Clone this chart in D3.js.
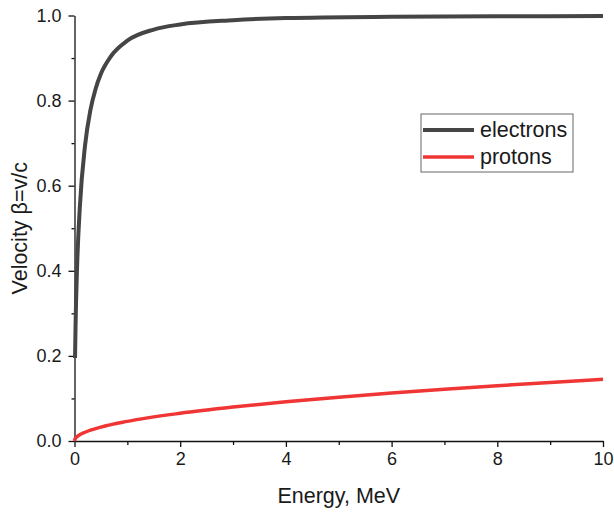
<!DOCTYPE html>
<html>
<head>
<meta charset="utf-8">
<script src="https://cdn.jsdelivr.net/npm/d3@7"></script>
<style>
  body { margin: 0; background: #fff; }
  text { font-family: "Liberation Sans", Arial, sans-serif; fill: #1a1a1a; }
</style>
</head>
<body>
<div id="chart"></div>
<script>
// energy in MeV, velocity as beta = v/c
let electronEnergy = [0.01, 0.02, 0.05, 0.1, 0.2, 0.3, 0.4, 0.5, 0.7, 1, 1.5, 2, 3, 4, 6, 8, 10];
let electronBeta   = [0.195, 0.272, 0.413, 0.548, 0.695, 0.777, 0.828, 0.863, 0.906, 0.941, 0.967, 0.979, 0.989, 0.994, 0.997, 0.998, 0.999];
let protonEnergy = [0, 0.01, 0.05, 0.1, 0.2, 0.5, 1, 2, 3, 4, 5, 6, 7, 8, 9, 10];
let protonBeta   = [0, 0.0046, 0.0103, 0.0146, 0.0206, 0.0326, 0.0461, 0.0652, 0.0798, 0.0921, 0.1028, 0.1126, 0.1215, 0.1298, 0.1376, 0.1449];
let xTicks = [0, 2, 4, 6, 8, 10];
let yTicks = [0, 0.2, 0.4, 0.6, 0.8, 1.0];
let seriesNames = ["electrons", "protons"];
let seriesColors = ["#454545", "#f03535"];

let width = 614, height = 512;
let margin = {left: 74.5, right: 11, top: 15.5, bottom: 71};

let svg = d3.select("#chart").append("svg")
    .attr("width", width)
    .attr("height", height);

let x = d3.scaleLinear().domain([0, 10]).range([margin.left, width - margin.right]);
let y = d3.scaleLinear().domain([0, 1]).range([height - margin.bottom, margin.top]);

// minor ticks
svg.append("g")
    .attr("transform", `translate(0, ${y(0)})`)
    .call(d3.axisBottom(x).tickValues(d3.range(1, 10, 2)).tickSize(4).tickFormat(""))
    .call(g => g.select(".domain").remove());
svg.append("g")
    .attr("transform", `translate(${x(0)}, 0)`)
    .call(d3.axisLeft(y).tickValues([0.1, 0.3, 0.5, 0.7, 0.9]).tickSize(3).tickFormat(""))
    .call(g => g.select(".domain").remove());

// major axes
let xAxis = svg.append("g")
    .attr("transform", `translate(0, ${y(0)})`)
    .call(d3.axisBottom(x).tickValues(xTicks).tickSize(6).tickSizeOuter(0).tickPadding(5).tickFormat(d3.format("d")));
xAxis.selectAll("text").style("font-size", "18px");

let yAxis = svg.append("g")
    .attr("transform", `translate(${x(0)}, 0)`)
    .call(d3.axisLeft(y).tickValues(yTicks).tickSize(6).tickSizeOuter(0).tickPadding(7).tickFormat(d3.format(".1f")));
yAxis.selectAll("text").style("font-size", "18px");

svg.selectAll(".domain, .tick line").attr("stroke", "#111").attr("stroke-width", 1.3);

// curves
let line = d3.line()
    .x(d => x(d[0]))
    .y(d => y(d[1]))
    .curve(d3.curveMonotoneX);

let electrons = electronEnergy.map((e, i) => [e, electronBeta[i]]);
let protons = protonEnergy.map((e, i) => [e, protonBeta[i]]);

svg.append("path")
    .datum(protons)
    .attr("fill", "none")
    .attr("stroke", seriesColors[1])
    .attr("stroke-width", 3.5)
    .attr("d", line);

svg.append("path")
    .datum(electrons)
    .attr("fill", "none")
    .attr("stroke", seriesColors[0])
    .attr("stroke-width", 4)
    .attr("d", line);

// axis titles
svg.append("text")
    .attr("x", (x(0) + x(10)) / 2)
    .attr("y", 503)
    .style("text-anchor", "middle")
    .style("font-size", "21.5px")
    .text("Energy, MeV");

svg.append("text")
    .attr("transform", `translate(27, ${(y(0) + y(1)) / 2}) rotate(-90)`)
    .style("text-anchor", "middle")
    .style("font-size", "21.5px")
    .text("Velocity β=v/c");

// legend
let legend = svg.append("g").attr("transform", "translate(421, 114)");
legend.append("rect")
    .attr("width", 152)
    .attr("height", 58)
    .attr("fill", "#fff")
    .attr("stroke", "#666")
    .attr("stroke-width", 1);

seriesNames.forEach(function(name, i) {
    let ly = 16 + i * 27;
    legend.append("line")
        .attr("x1", 2).attr("x2", 53)
        .attr("y1", ly).attr("y2", ly)
        .attr("stroke", seriesColors[i])
        .attr("stroke-width", i == 0 ? 4 : 3.5);
    legend.append("text")
        .attr("x", 59)
        .attr("y", ly + 7)
        .style("font-size", "21.5px")
        .text(name);
});
</script>
</body>
</html>
